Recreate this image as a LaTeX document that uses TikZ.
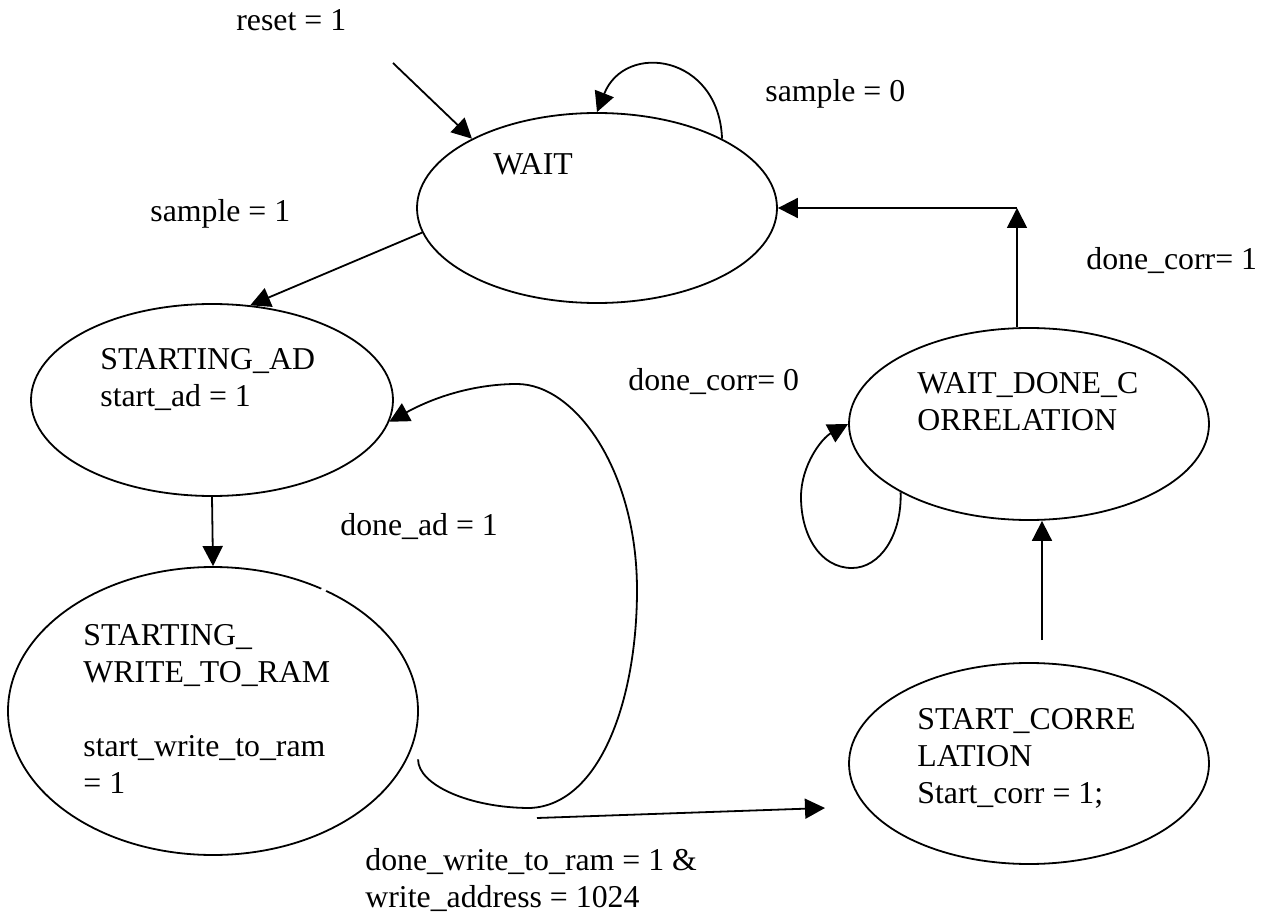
\documentclass[tikz,border=0pt]{standalone}
\usepackage{fontspec}
\setmainfont{Liberation Serif}
\usetikzlibrary{shapes.geometric,arrows.meta}
\begin{document}
\begin{tikzpicture}[x=0.5pt,y=-0.5pt,
  state/.style={draw, ellipse, line width=0.9pt, inner sep=0pt},
  txt/.style={anchor=base west, inner sep=0pt, align=left, font=\fontsize{15.9}{18.5}\selectfont},
  arr/.style={line width=0.9pt, -{Triangle[length=10pt,width=10pt]}},
  ln/.style={line width=0.9pt}]
\useasboundingbox (0,0) rectangle (1271,920);

% states
\node[state, minimum width=180pt, minimum height=95pt]  (wait) at (597,208) {};
\node[state, minimum width=181pt, minimum height=96pt]  (sad)  at (212,400) {};
\node[state, minimum width=205pt, minimum height=144pt] (sw)   at (213,711) {};
\node[state, minimum width=180pt, minimum height=96pt]  (wdc)  at (1029,424) {};
\node[state, minimum width=180pt, minimum height=100.5pt] (sc) at (1029,763.5) {};
\draw[white, line width=2pt] (321.5,588.5) -- (325.5,591.5);

% state texts (anchored at the baseline of their last line)
\node[txt] (twait) at (493,175) {WAIT};
\node[txt] (tsad) at (100,406) {STARTING\_AD\\start\_ad = 1};
\node[txt] (tsw) at (83,793) {STARTING\_\\WRITE\_TO\_RAM\\[18.5pt]start\_write\_to\_ram\\= 1};
\node[txt] (twdc) at (917,430) {WAIT\_DONE\_C\\ORRELATION};
\node[txt] (tsc) at (917,803) {START\_CORRE\\LATION\\Start\_corr = 1;};

% labels
\node[txt] (lreset) at (236,31) {reset = 1};
\node[txt] (ls0) at (765,102) {sample = 0};
\node[txt] (ls1) at (150,222) {sample = 1};
\node[txt] (ldc1) at (1086,270) {done\_corr= 1};
\node[txt] (ldc0) at (628,390) {done\_corr= 0};
\node[txt] (ldad) at (340,535) {done\_ad = 1};
\node[txt] (ldw) at (365,907) {done\_write\_to\_ram = 1 \&\\write\_address = 1024};

% coordinates
\coordinate (rs) at (393,63);
\coordinate (corner) at (1017,208);
\coordinate (dwA) at (537,818);
\coordinate (dwB) at (825,808);
\coordinate (scup) at (1042,640);

% connectors
\draw[arr] (rs) -- (wait.151);
\draw[arr] (wait.29) .. controls +(-3,-84) and +(28,-71) .. (wait.north);
\draw[arr] (wait.188) -- (sad.68);
\draw[arr] (sad.south) -- (sw.north);
\draw[arr] ([xshift=5.5pt]sw.-14) .. controls (418,785) and (470,808) .. (530,808)
   .. controls (600,805) and (637,700) .. (637,590)
   .. controls (637,470) and (575,384) .. (517,384)
   .. controls (480,384) and (440,394) .. (sad.-7);
\draw[arr] (dwA) -- (dwB);
\draw[arr] (scup) -- (scup |- wdc.south);
\draw[arr] (wdc.208) .. controls (902,535) and (880,568) .. (852,568)
   .. controls (820,568) and (801,535) .. (801,497)
   .. controls (801,465) and (822,438) .. (wdc.west);
\draw[arr] (corner |- wdc.north) -- (corner);
\draw[arr] (corner) -- (wait.east);
\end{tikzpicture}
\end{document}
